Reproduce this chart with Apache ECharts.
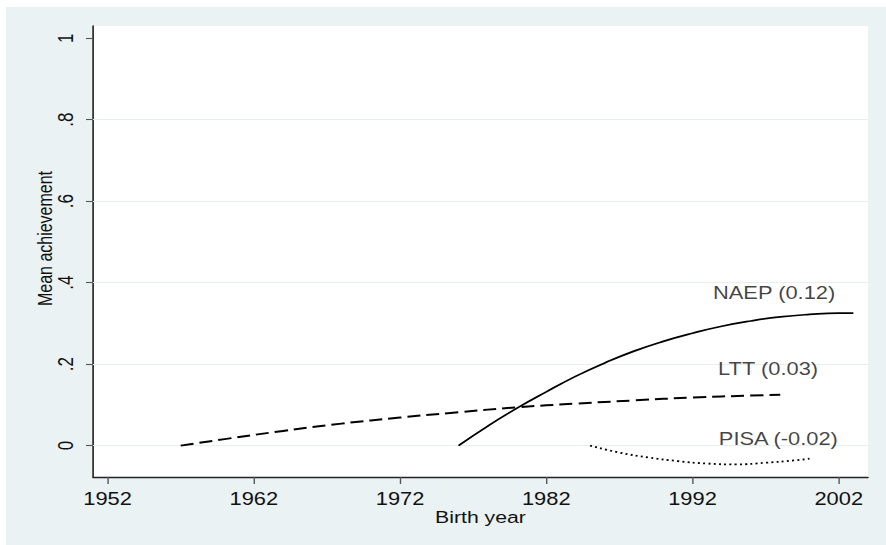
<!DOCTYPE html>
<html>
<head>
<meta charset="utf-8">
<script src="https://cdn.jsdelivr.net/npm/echarts@6/dist/echarts.min.js"></script>
<style>
  html, body { margin: 0; padding: 0; background: #ffffff; overflow: hidden; }
  #wrap { position: relative; width: 886px; height: 545px; background: #ffffff; overflow: hidden; }
  #bg { position: absolute; left: 6px; top: 7px; width: 880px; height: 538px; background: #eaf2f3; }
  /* the reference graph is stretched horizontally; draw narrower and stretch the same way */
  #chart { position: absolute; left: 0; top: 0; width: 709px; height: 545px;
           transform: scaleX(1.2496); transform-origin: 0 0; }
</style>
</head>
<body>
<div id="wrap"><div id="bg"></div><div id="chart"></div></div>
<script>
// ---- data ----
const naepYears  = [1976, 1978, 1980, 1982, 1984, 1986, 1988, 1990, 1992, 1994, 1996, 1998, 2000, 2002, 2003];
const naepValues = [0, 0.048, 0.092, 0.132, 0.170, 0.203, 0.232, 0.256, 0.276, 0.293, 0.306, 0.316, 0.322, 0.325, 0.325];

const lttYears  = [1957, 1960, 1964, 1968, 1972, 1976, 1980, 1984, 1988, 1992, 1996, 1998];
const lttValues = [0, 0.016, 0.036, 0.054, 0.069, 0.082, 0.094, 0.103, 0.111, 0.118, 0.123, 0.125];

const pisaYears  = [1985, 1987, 1989, 1991, 1993, 1995, 1997, 1999, 2000];
const pisaValues = [0, -0.017, -0.029, -0.038, -0.044, -0.046, -0.042, -0.036, -0.032];

const seriesNames = ['NAEP (0.12)', 'LTT (0.03)', 'PISA (-0.02)'];
const labelYears  = [1993.4, 1993.75, 1993.8];
const labelValues = [0.376, 0.188, 0.016];

const xTickValues = [1952, 1962, 1972, 1982, 1992, 2002];
const xTickLabels = ['1952', '1962', '1972', '1982', '1992', '2002'];
const yTickValues = [0, 0.2, 0.4, 0.6, 0.8, 1];
const yTickLabels = ['0', '.2', '.4', '.6', '.8', '1'];
const yGridValues = [0, 0.2, 0.4, 0.6, 0.8];

const xTitle = 'Birth year';
const yTitle = 'Mean achievement';

// ---- build ----
const pairs = (xs, ys) => xs.map((x, i) => [x, ys[i]]);
const lookup = (vals, labs) => v => {
  let best = 0;
  for (let i = 1; i < vals.length; i++) if (Math.abs(vals[i] - v) < Math.abs(vals[best] - v)) best = i;
  return labs[best];
};

const chart = echarts.init(document.getElementById('chart'), null, { renderer: 'svg', width: 709, height: 545 });
const axisColor = '#222';
const font = 'Liberation Sans, Arial, Helvetica, sans-serif';

chart.setOption({
  backgroundColor: 'transparent',
  animation: false,
  grid: { left: 74.4, top: 26, right: 14.4, bottom: 68, show: true, backgroundColor: '#ffffff', borderWidth: 0 },
  xAxis: {
    type: 'value', min: 1951, max: 2004,
    splitLine: { show: false },
    axisLine: { show: true, onZero: false, lineStyle: { color: axisColor, width: 1.3 } },
    axisTick: { show: true, customValues: xTickValues, length: 7, lineStyle: { color: '#555', width: 1.1 } },
    axisLabel: { customValues: xTickValues, formatter: lookup(xTickValues, xTickLabels), margin: 13,
                 color: '#111', fontFamily: font, fontSize: 17.5 },
    name: xTitle, nameLocation: 'middle', nameGap: 32, nameMoveOverlap: false,
    nameTextStyle: { color: '#111', fontFamily: font, fontSize: 17 }
  },
  yAxis: {
    type: 'value', min: -0.077, max: 1.03,
    splitLine: { show: false },
    axisLine: { show: true, onZero: false, lineStyle: { color: axisColor, width: 1.3 } },
    axisTick: { show: true, customValues: yTickValues, length: 5.6, lineStyle: { color: '#555', width: 1.1 } },
    axisLabel: { customValues: yTickValues, formatter: lookup(yTickValues, yTickLabels), rotate: 90, margin: 13.4,
                 color: '#111', fontFamily: font, fontSize: 17 },
    name: yTitle, nameLocation: 'middle', nameGap: 30, nameRotate: 90, nameMoveOverlap: false,
    nameTextStyle: { color: '#111', fontFamily: font, fontSize: 16, padding: [0, 0, 0, 26] }
  },
  series: [
    {
      name: 'grid', type: 'line', data: [], silent: true, z: 1,
      markLine: {
        silent: true, z: 1, symbol: ['none', 'none'], label: { show: false },
        lineStyle: { color: '#e6eeef', width: 1.2, type: 'solid' },
        data: yGridValues.map(v => ({ yAxis: v }))
      }
    },
    {
      name: seriesNames[0], type: 'line', data: pairs(naepYears, naepValues), smooth: true,
      showSymbol: false, lineStyle: { color: '#000', width: 1.7, type: 'solid' }, z: 3
    },
    {
      name: seriesNames[1], type: 'line', data: pairs(lttYears, lttValues), smooth: true,
      showSymbol: false, lineStyle: { color: '#000', width: 2, type: [10.5, 4.8] }, z: 3
    },
    {
      name: seriesNames[2], type: 'line', data: pairs(pisaYears, pisaValues), smooth: true,
      showSymbol: false, lineStyle: { color: '#000', width: 1.8, type: [1.6, 2.6] }, z: 3
    },
    {
      name: 'labels', type: 'scatter', symbolSize: 0, silent: true, z: 4,
      data: labelYears.map((x, i) => ({ value: [x, labelValues[i]], name: seriesNames[i] })),
      label: { show: true, position: 'right', distance: 0, formatter: p => p.name,
               color: '#111', fontFamily: font, fontSize: 17.5 }
    }
  ]
});
</script>
</body>
</html>
